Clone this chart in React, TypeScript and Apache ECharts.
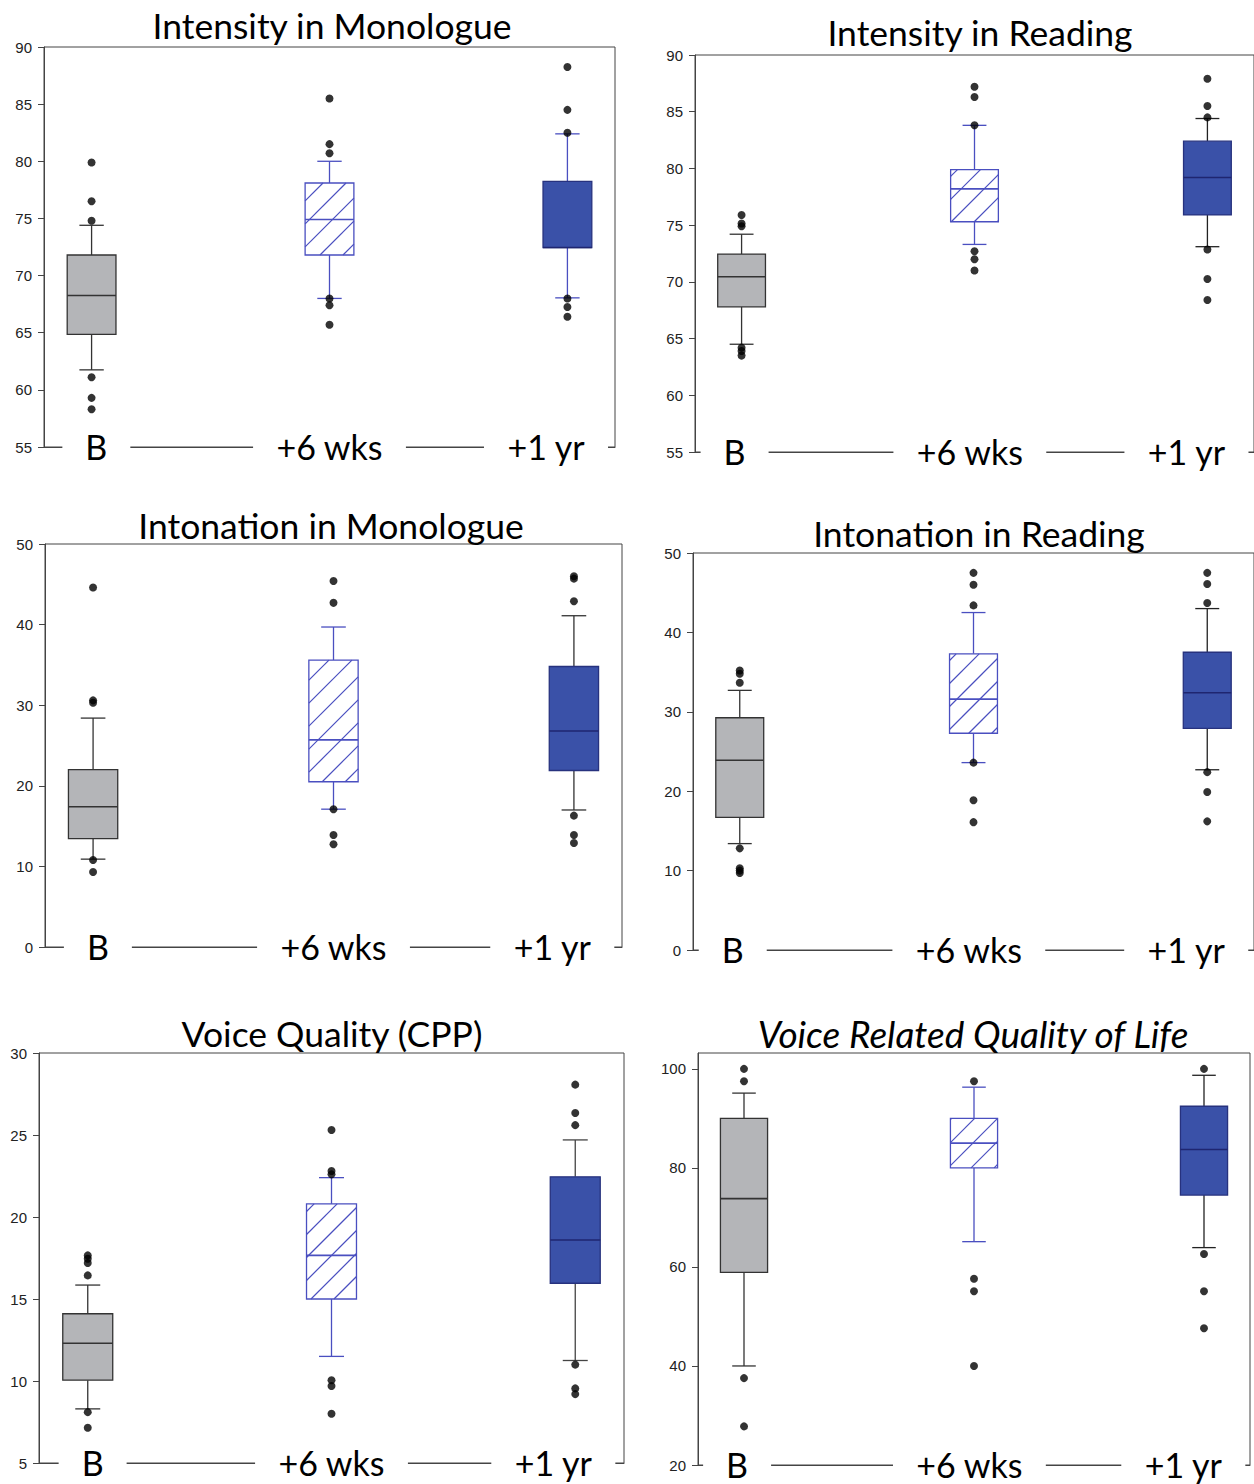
import React, { useEffect, useRef } from 'react';
import * as echarts from 'echarts';

// ---------- data ----------
const categories = ['B', '+6 wks', '+1 yr'];
const titles = [
  'Intensity in Monologue',
  'Intensity in Reading',
  'Intonation in Monologue',
  'Intonation in Reading',
  'Voice Quality (CPP)',
  'Voice Related Quality of Life',
];

// y axis [min, max, interval]
const intensityMonoAxis = [55, 90, 5];
const intensityReadAxis = [55, 90, 5];
const intonationMonoAxis = [0, 50, 10];
const intonationReadAxis = [0, 50, 10];
const cppAxis = [5, 30, 5];
const vrqolAxis = [20, 103.2, 20];

// box stats per group: [lower whisker, Q1, median, Q3, upper whisker]
const intensityMonoBoxes = [
  [61.75, 64.85, 68.25, 71.8, 74.4],
  [68.0, 71.8, 74.9, 78.1, 80.0],
  [68.05, 72.45, 72.45, 78.25, 82.4],
];
const intensityMonoOutliers = [
  [0, 79.9], [0, 76.5], [0, 74.8], [0, 61.1], [0, 59.3], [0, 58.3],
  [1, 85.5], [1, 81.5], [1, 80.7], [1, 68.0], [1, 67.4], [1, 65.7],
  [2, 88.25], [2, 84.5], [2, 82.5], [2, 68.0], [2, 67.25], [2, 66.4],
];

const intensityReadBoxes = [
  [64.5, 67.8, 70.45, 72.45, 74.2],
  [73.3, 75.3, 78.2, 79.9, 83.8],
  [73.1, 75.9, 79.2, 82.4, 84.4],
];
const intensityReadOutliers = [
  [0, 75.9], [0, 75.15], [0, 74.9], [0, 64.2], [0, 63.9], [0, 63.5],
  [1, 87.2], [1, 86.3], [1, 83.8], [1, 72.7], [1, 72.0], [1, 71.0],
  [2, 87.9], [2, 85.5], [2, 84.5], [2, 72.85], [2, 70.25], [2, 68.4],
];

const intonationMonoBoxes = [
  [10.9, 13.45, 17.4, 22.0, 28.4],
  [17.1, 20.5, 25.7, 35.6, 39.7],
  [17.0, 21.9, 26.8, 34.8, 41.1],
];
const intonationMonoOutliers = [
  [0, 44.6], [0, 30.6], [0, 30.3], [0, 10.8], [0, 9.3],
  [1, 45.4], [1, 42.7], [1, 17.1], [1, 13.9], [1, 12.75],
  [2, 46.0], [2, 45.7], [2, 42.9], [2, 16.3], [2, 13.9], [2, 12.9],
];

const intonationReadBoxes = [
  [13.4, 16.7, 23.9, 29.25, 32.7],
  [23.6, 27.3, 31.6, 37.3, 42.5],
  [22.7, 27.9, 32.4, 37.5, 43.0],
];
const intonationReadOutliers = [
  [0, 35.2], [0, 34.8], [0, 33.65], [0, 12.8], [0, 10.3], [0, 10.0], [0, 9.7],
  [1, 47.5], [1, 46.0], [1, 43.4], [1, 23.6], [1, 18.85], [1, 16.1],
  [2, 47.5], [2, 46.1], [2, 43.7], [2, 22.4], [2, 19.9], [2, 16.2],
];

const cppBoxes = [
  [8.3, 10.05, 12.3, 14.1, 15.85],
  [11.5, 15.0, 17.66, 20.8, 22.4],
  [11.25, 15.96, 18.6, 22.45, 24.7],
];
const cppOutliers = [
  [0, 17.66], [0, 17.45], [0, 17.2], [0, 16.44], [0, 8.1], [0, 7.15],
  [1, 25.3], [1, 22.8], [1, 22.6], [1, 10.05], [1, 9.7], [1, 8.0],
  [2, 28.07], [2, 26.34], [2, 25.6], [2, 11.0], [2, 9.55], [2, 9.2],
];

const vrqolBoxes = [
  [40.0, 58.9, 73.8, 90.0, 95.1],
  [65.1, 80.0, 85.0, 90.0, 96.3],
  [63.9, 74.5, 83.7, 92.45, 98.7],
];
const vrqolOutliers = [
  [0, 100], [0, 97.5], [0, 37.55], [0, 27.8],
  [1, 97.5], [1, 57.6], [1, 55.1], [1, 40.0],
  [2, 100], [2, 62.6], [2, 55.1], [2, 47.6],
];

// ---------- layout & style ----------
const xLabelAtLeft = [0.02, 1, 1.91];
const xLabelAtRight = [-0.03, 0.98, 1.91];

const panels = [
  { axis: intensityMonoAxis, boxes: intensityMonoBoxes, outliers: intensityMonoOutliers, labelAt: xLabelAtLeft,
    grid: { left: 44, top: 47, width: 571, height: 400 }, titleAt: [332, 25], yrWhisker: '#4a4fc0' },
  { axis: intensityReadAxis, boxes: intensityReadBoxes, outliers: intensityReadOutliers, labelAt: xLabelAtRight,
    grid: { left: 695, top: 55, width: 564, height: 397 }, titleAt: [980, 32], yrWhisker: '#222' },
  { axis: intonationMonoAxis, boxes: intonationMonoBoxes, outliers: intonationMonoOutliers, labelAt: xLabelAtLeft,
    grid: { left: 45, top: 544, width: 577, height: 403 }, titleAt: [331, 525], yrWhisker: '#333' },
  { axis: intonationReadAxis, boxes: intonationReadBoxes, outliers: intonationReadOutliers, labelAt: xLabelAtRight,
    grid: { left: 693, top: 553, width: 563, height: 397 }, titleAt: [979, 533], yrWhisker: '#222' },
  { axis: cppAxis, boxes: cppBoxes, outliers: cppOutliers, labelAt: xLabelAtLeft,
    grid: { left: 39, top: 1053, width: 585, height: 410 }, titleAt: [332, 1033], yrWhisker: '#444' },
  { axis: vrqolAxis, boxes: vrqolBoxes, outliers: vrqolOutliers, labelAt: xLabelAtRight,
    grid: { left: 698, top: 1053, width: 552, height: 419 }, titleAt: [973, 1033], yrWhisker: '#222', italic: true },
];

const BOX_W = 0.205;
const HATCH_STEP = 23;
const BLUE_LINE = '#4a4fc0';
const AXIS_COLOR = '#444';
const TITLE_FONT = 'Lato, "Open Sans", sans-serif';

const groupStyle = [
  { fill: '#b4b5b8', stroke: '#333', median: '#333', whisker: '#333', hatch: false },
  { fill: '#ffffff', stroke: BLUE_LINE, median: BLUE_LINE, whisker: BLUE_LINE, hatch: true },
  { fill: '#3a51a8', stroke: '#27327e', median: '#1f2670', whisker: '#222', hatch: false },
];

function makeRenderItem(yrWhisker: string) {
  return (params: any, api: any) => {
    const g = api.value(0);
    const low = api.value(1), q1 = api.value(2), med = api.value(3), q3 = api.value(4), high = api.value(5);
    const st = groupStyle[g];
    const whisker = g === 2 ? yrWhisker : st.whisker;
    const x = api.coord([g, low])[0];
    const yLow = api.coord([g, low])[1];
    const yQ1 = api.coord([g, q1])[1];
    const yMed = api.coord([g, med])[1];
    const yQ3 = api.coord([g, q3])[1];
    const yHigh = api.coord([g, high])[1];
    const bw = api.size([BOX_W, 0])[0];
    const cw = bw / 2;
    const lw = 1.3;
    const children: any[] = [
      { type: 'line', shape: { x1: x, y1: yQ3, x2: x, y2: yHigh }, style: { stroke: whisker, lineWidth: lw } },
      { type: 'line', shape: { x1: x, y1: yQ1, x2: x, y2: yLow }, style: { stroke: whisker, lineWidth: lw } },
      { type: 'line', shape: { x1: x - cw / 2, y1: yHigh, x2: x + cw / 2, y2: yHigh }, style: { stroke: whisker, lineWidth: lw } },
      { type: 'line', shape: { x1: x - cw / 2, y1: yLow, x2: x + cw / 2, y2: yLow }, style: { stroke: whisker, lineWidth: lw } },
      { type: 'rect', shape: { x: x - bw / 2, y: yQ3, width: bw, height: yQ1 - yQ3 },
        style: { fill: st.fill, stroke: st.stroke, lineWidth: lw } },
    ];
    if (st.hatch) {
      const x0 = x - bw / 2, x1 = x + bw / 2, y0 = yQ3, y1 = yQ1;
      const cStart = Math.ceil((x0 + y0) / HATCH_STEP) * HATCH_STEP;
      for (let c = cStart; c <= x1 + y1; c += HATCH_STEP) {
        const xa = Math.max(x0, c - y1);
        const xb = Math.min(x1, c - y0);
        if (xb - xa > 0.5) {
          children.push({ type: 'line', shape: { x1: xa, y1: c - xa, x2: xb, y2: c - xb },
            style: { stroke: BLUE_LINE, lineWidth: 1.2 } });
        }
      }
    }
    children.push({ type: 'line', shape: { x1: x - bw / 2, y1: yMed, x2: x + bw / 2, y2: yMed },
      style: { stroke: st.median, lineWidth: 1.6 } });
    return { type: 'group', children };
  };
}

function buildOption() {
  const grid: any[] = [];
  const xAxis: any[] = [];
  const yAxis: any[] = [];
  const series: any[] = [];
  const graphic: any[] = [];
  panels.forEach((p, i) => {
    grid.push({ ...p.grid, show: true, borderColor: AXIS_COLOR, borderWidth: 1, backgroundColor: 'transparent' });
    xAxis.push({
      type: 'value', gridIndex: i, min: -0.2, max: 2.2,
      splitLine: { show: false },
      axisTick: { show: false },
      axisLine: { show: true, onZero: false, lineStyle: { color: AXIS_COLOR, width: 1 } },
      axisLabel: {
        customValues: p.labelAt,
        formatter: (v: number) => categories[Math.round(v)],
        fontFamily: TITLE_FONT, fontSize: 34, color: '#000',
        backgroundColor: '#fff', padding: [3, 23], margin: -1, verticalAlign: 'middle',
        showMinLabel: true, showMaxLabel: true,
      },
    });
    yAxis.push({
      type: 'value', gridIndex: i, min: p.axis[0], max: p.axis[1], interval: p.axis[2],
      splitLine: { show: false },
      axisLine: { show: true, onZero: false, lineStyle: { color: AXIS_COLOR, width: 1 } },
      axisTick: { show: true, inside: false, length: 6, lineStyle: { color: AXIS_COLOR } },
      axisLabel: {
        fontFamily: 'Liberation Sans, Arial, sans-serif', fontSize: 15, color: '#222', margin: 12,
        showMaxLabel: p.axis[1] % p.axis[2] === 0,
      },
    });
    series.push({
      type: 'custom', xAxisIndex: i, yAxisIndex: i,
      renderItem: makeRenderItem(p.yrWhisker),
      encode: { x: 0, y: [1, 2, 3, 4, 5] },
      data: p.boxes.map((b, g) => [g, ...b]),
      z: 2,
    });
    series.push({
      type: 'scatter', xAxisIndex: i, yAxisIndex: i,
      data: p.outliers, symbol: 'circle', symbolSize: 8,
      itemStyle: { color: '#000' }, z: 3,
    });
    graphic.push({
      type: 'text', x: p.titleAt[0], y: p.titleAt[1], z: 10,
      style: {
        text: titles[i], fill: '#000', fontFamily: TITLE_FONT, fontSize: p.italic ? 37 : 35.5,
        fontStyle: p.italic ? 'italic' : 'normal',
        align: 'center', verticalAlign: 'middle',
      },
    });
  });
  return { animation: false, backgroundColor: '#fff', grid, xAxis, yAxis, series, graphic };
}

export default function App() {
  const ref = useRef<HTMLDivElement>(null);
  useEffect(() => {
    document.body.style.margin = '0';
    if (!ref.current) return;
    const chart = echarts.init(ref.current, undefined, { renderer: 'svg' });
    chart.setOption(buildOption() as any);
    return () => chart.dispose();
  }, []);
  return <div ref={ref} style={{ position: 'absolute', left: 0, top: 0, width: 1254, height: 1484 }} />;
}
